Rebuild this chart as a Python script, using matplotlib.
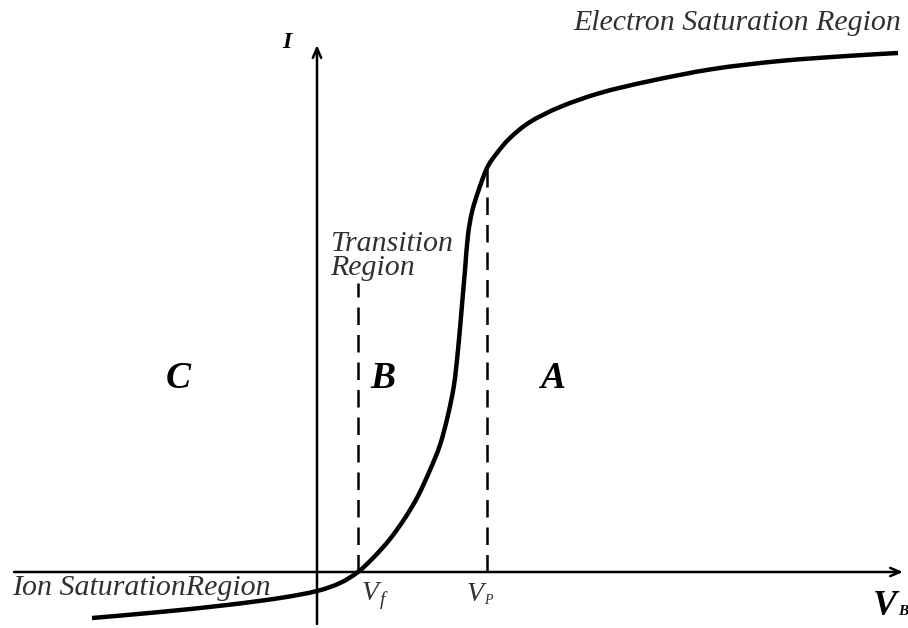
"""
Langmuir probe I-V characteristic: ion saturation, transition and
electron saturation regions with floating and plasma potentials.
"""
import matplotlib
matplotlib.use("Agg")
import matplotlib.pyplot as plt
import numpy as np
from matplotlib.patches import PathPatch
from matplotlib.path import Path

# probe bias (arbitrary units) and collected current along the characteristic
bias = [-225, -157, -90, -37, 0, 23, 41, 57, 73, 88, 101, 113, 123, 131, 137,
        141, 145, 148, 151, 155, 161, 170, 180, 193, 213, 243, 283, 333, 396,
        463, 530, 581]
current = [-46, -40, -33, -26, -19, -11, 0, 15, 33, 54, 76, 102, 127, 157, 187,
           222, 267, 302, 337, 360, 380, 404, 419, 434, 450, 465, 479, 491, 503,
           511, 516, 519]

V_FLOAT = 41      # floating potential, where I = 0
V_PLASMA = 170    # plasma potential, knee of the curve
I_PLASMA = 404
FLOAT_MARK_TOP = 289

region_letters = ["C", "B", "A"]
region_letter_x = [-139, 66, 236]

SERIF = "Liberation Serif"


def bezier_through(xs, ys):
    """Cubic Bezier path passing through every point (Catmull-Rom tangents)."""
    pts = np.column_stack([xs, ys]).astype(float)
    n = len(pts)
    verts = [pts[0]]
    codes = [Path.MOVETO]
    for i in range(n - 1):
        p0 = pts[max(i - 1, 0)]
        p1, p2 = pts[i], pts[i + 1]
        p3 = pts[min(i + 2, n - 1)]
        verts += [p1 + (p2 - p0) / 6, p2 - (p3 - p1) / 6, p2]
        codes += [Path.CURVE4] * 3
    return Path(verts, codes)


def main():
    fig = plt.figure(figsize=(9.08, 6.28), dpi=100)
    ax = fig.add_axes([0, 0, 1, 1])
    ax.set_xlim(-317, 591)
    ax.set_ylim(-56, 572)
    ax.axis("off")

    # axes with arrow heads
    arrow = dict(arrowstyle="->,head_length=0.7,head_width=0.3",
                 color="black", lw=1.8, shrinkA=0, shrinkB=0)
    ax.annotate("", xy=(586, 0), xytext=(-303, 0), arrowprops=arrow)
    ax.annotate("", xy=(0, 527), xytext=(0, -52), arrowprops=arrow)

    # characteristic
    ax.add_patch(PathPatch(bezier_through(bias, current), fill=False,
                           edgecolor="black", lw=3.2, capstyle="butt"))

    # floating and plasma potential markers
    dash = dict(color="black", lw=1.8, dashes=(7, 4))
    ax.plot([V_FLOAT, V_FLOAT], [0, FLOAT_MARK_TOP], **dash)
    ax.plot([V_PLASMA, V_PLASMA], [0, I_PLASMA], **dash)

    bold_it = dict(fontfamily=SERIF, fontstyle="italic", fontweight="bold")
    ax.text(-30, 529, "I", fontsize=17, ha="center", va="center", **bold_it)
    ax.text(556, -18, "V", fontsize=26, ha="left", va="top", **bold_it)
    ax.text(581, -33, "B", fontsize=11, ha="left", va="top", **bold_it)

    pot = dict(fontfamily=SERIF, fontstyle="italic", color="#303030")
    ax.text(V_FLOAT + 4, -9, "V", fontsize=20, ha="left", va="top", **pot)
    ax.text(V_FLOAT + 22, -19, "f", fontsize=14, ha="left", va="top", **pot)
    ax.text(V_PLASMA - 20, -10, "V", fontsize=20, ha="left", va="top", **pot)
    ax.text(V_PLASMA - 3, -22, "P", fontsize=10, ha="left", va="top", **pot)

    for letter, x in zip(region_letters, region_letter_x):
        ax.text(x, 194, letter, fontsize=27, ha="center", va="center",
                **bold_it)

    label = dict(fontfamily=SERIF, fontstyle="italic", fontsize=21.5,
                 color="#303030")
    ax.text(584, 549, "Electron Saturation Region", ha="right", va="center",
            **label)
    ax.text(13, 316, "Transition\nRegion", ha="left", va="center",
            linespacing=0.9, **label)
    ax.text(-305, -16, "Ion SaturationRegion", ha="left", va="center", **label)

    fig.savefig("out.png", dpi=100)
    plt.close(fig)


if __name__ == "__main__":
    main()
